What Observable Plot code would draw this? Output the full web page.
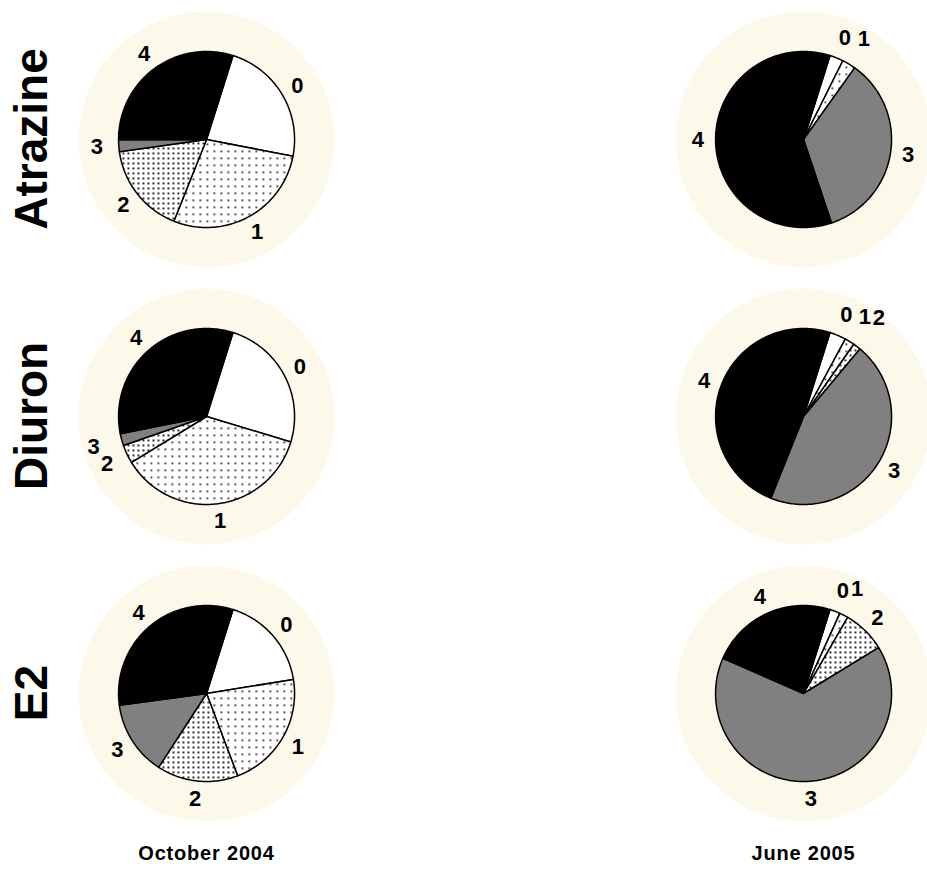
<!DOCTYPE html>
<html>
<head>
<meta charset="utf-8">
<script src="https://cdn.jsdelivr.net/npm/d3@7"></script>
<script src="https://cdn.jsdelivr.net/npm/@observablehq/plot@0.6"></script>
<style>
  html, body { margin: 0; padding: 0; background: #ffffff; }
  #chart { width: 927px; height: 879px; overflow: hidden; }
  g[aria-label="fx-axis tick label"] text { letter-spacing: 0.8px; }
</style>
</head>
<body>
<div id="chart"></div>
<script>
// ---- data (percent of samples in each response class) ----
const chemicals = ["Atrazine", "Diuron", "E2"];
const periods = ["October 2004", "June 2005"];
const classes = ["0", "1", "2", "3", "4"];

const atrazineOct = [23.2, 28.0, 16.7, 2.2, 29.9];
const atrazineJun = [2.5, 2.5, 0, 35.0, 60.0];
const diuronOct   = [24.8, 36.6, 3.4, 2.2, 33.0];
const diuronJun   = [3.0, 1.8, 1.4, 45.0, 48.8];
const e2Oct       = [17.6, 21.8, 14.9, 13.7, 32.0];
const e2Jun       = [1.9, 1.6, 7.9, 65.3, 23.3];

const pies = [
  {chem: "Atrazine", period: "October 2004", values: atrazineOct},
  {chem: "Atrazine", period: "June 2005",    values: atrazineJun},
  {chem: "Diuron",   period: "October 2004", values: diuronOct},
  {chem: "Diuron",   period: "June 2005",    values: diuronJun},
  {chem: "E2",       period: "October 2004", values: e2Oct},
  {chem: "E2",       period: "June 2005",    values: e2Jun}
];

// ---- layout / style parameters ----
const W = 927, H = 879;
const PX = 88;            // pie radius in pixels
const START = 17.5;       // first slice starts this many degrees clockwise from 12 o'clock
const fills = ["url(#pat0)", "url(#pat1)", "url(#pat2)", "url(#pat3)", "black"];

// fx band layout
const mL = 81, mR = 0, fxPadInner = 0.585;
const fxStep = (W - mL - mR) / (2 - fxPadInner);
const fxBand = fxStep * (1 - fxPadInner);
// fy band layout
const mT = 13, mB = 60, fyPadInner = 0.1007;
const fyStep = (H - mT - mB) / (3 - fyPadInner);
const fyBand = fyStep * (1 - fyPadInner);

// ---- slice geometry derived from the values ----
const slicePts = [];
const labels = [];
for (const p of pies) {
  const total = d3.sum(p.values);
  let a = START;
  let smallRun = 0;
  p.values.forEach((v, i) => {
    if (!v) return;
    const span = v / total * 360;
    const a0 = a, a1 = a + span;
    const key = p.chem + "|" + p.period + "|" + i;
    const n = Math.max(2, Math.ceil(span));
    const pts = [[0, 0]];
    for (let k = 0; k <= n; k++) {
      const t = (a0 + span * k / n) * Math.PI / 180;
      pts.push([Math.sin(t), Math.cos(t)]);
    }
    pts.push([0, 0]);
    for (const [x, y] of pts) slicePts.push({chem: p.chem, period: p.period, cls: i, key, x, y});
    const mid = (a0 + a1) / 2 * Math.PI / 180;
    let lr = 1.2;
    if (span < 18) { lr = 1.25 + 0.08 * smallRun; smallRun++; } else smallRun = 0;
    labels.push({chem: p.chem, period: p.period, cls: classes[i], x: lr * Math.sin(mid), y: lr * Math.cos(mid)});
    a = a1;
  });
}

const xHalf = fxBand / 2 / PX;
const yHalf = fyBand / 2 / PX;

const svg = Plot.plot({
  width: W,
  height: H,
  marginLeft: mL,
  marginRight: mR,
  marginTop: mT,
  marginBottom: mB,
  style: {fontFamily: "'Liberation Sans', Arial, sans-serif", background: "white", color: "black", overflow: "visible"},
  fx: {domain: periods, paddingInner: fxPadInner, paddingOuter: 0, label: null},
  fy: {domain: chemicals, paddingInner: fyPadInner, paddingOuter: 0, label: null},
  x: {domain: [-xHalf, xHalf], range: [mL, mL + fxBand], axis: null},
  y: {domain: [-yHalf, yHalf], range: [mT + fyBand, mT], axis: null},
  marks: [
    Plot.dot(pies, {fx: "period", fy: "chem", x: () => 0, y: () => 0, r: 128, fill: "#fcf9ea", stroke: "none"}),
    ...classes.map((c, i) => Plot.line(slicePts.filter(d => d.cls === i), {
      fx: "period", fy: "chem", x: "x", y: "y", z: "key",
      fill: fills[i], stroke: "black", strokeWidth: 1.5, strokeLinejoin: "round"
    })),
    Plot.text(labels, {fx: "period", fy: "chem", x: "x", y: "y", text: "cls", fontSize: 22, fontWeight: "bold", fill: "black"}),
    Plot.axisFx({anchor: "bottom", tickSize: 0, tickPadding: 28, fontSize: 20, fontWeight: "bold", label: null}),
    Plot.axisFy({anchor: "left", tickSize: 0, tickRotate: -90, tickPadding: 36, fontSize: 46, fontWeight: "bold", label: null})
  ]
});

// hatch patterns
const defs = document.createElementNS("http://www.w3.org/2000/svg", "defs");
defs.innerHTML = `
  <pattern id="pat0" patternUnits="userSpaceOnUse" width="4" height="4">
    <rect width="4" height="4" fill="white"/>
  </pattern>
  <pattern id="pat1" patternUnits="userSpaceOnUse" width="7" height="7">
    <rect width="7" height="7" fill="white"/>
    <rect x="2" y="2" width="1.6" height="1.6" fill="black"/>
  </pattern>
  <pattern id="pat2" patternUnits="userSpaceOnUse" width="5" height="5">
    <rect width="5" height="5" fill="white"/>
    <rect x="1" y="1" width="1.8" height="1.8" fill="black"/>
  </pattern>
  <pattern id="pat3" patternUnits="userSpaceOnUse" width="2" height="2">
    <rect width="2" height="2" fill="white"/>
    <rect x="0" y="0" width="1" height="1" fill="black"/>
    <rect x="1" y="1" width="1" height="1" fill="black"/>
  </pattern>`;
svg.insertBefore(defs, svg.firstChild);

document.getElementById("chart").appendChild(svg);
</script>
</body>
</html>
